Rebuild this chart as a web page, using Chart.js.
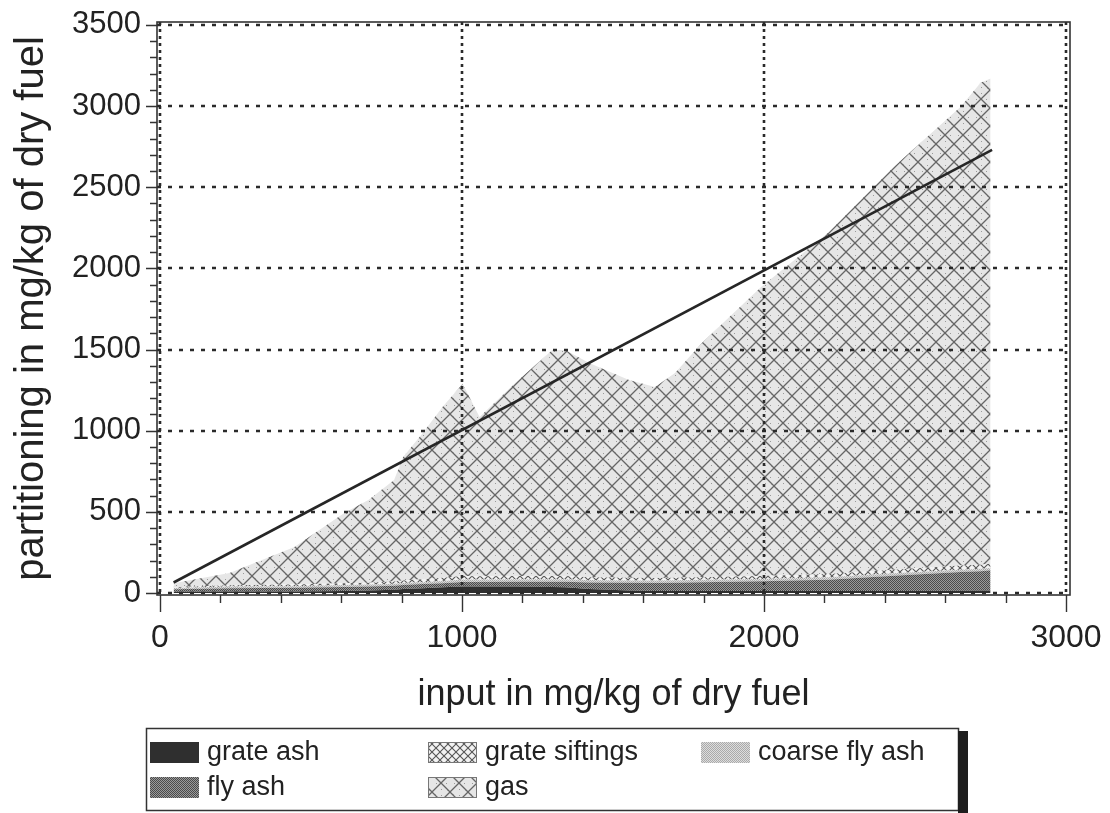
<!DOCTYPE html>
<html>
<head>
<meta charset="utf-8">
<script src="https://cdn.jsdelivr.net/npm/chart.js@4.4.0/dist/chart.umd.min.js"></script>
<style>
  html, body { margin: 0; padding: 0; background: #fff; }
  #wrap { width: 1110px; height: 813px; }
</style>
</head>
<body>
<div id="wrap"><canvas id="c" width="1110" height="813"></canvas></div>
<script>
// Input of the element in the fuel (mg/kg dry fuel), one entry per sample
const inputX = [45, 230, 445, 610, 690, 775, 805, 870, 936, 1002, 1058, 1177, 1299, 1342, 1421, 1553, 1639, 1705, 1794, 1991, 2212, 2430, 2651, 2717, 2750];

// Partitioning into the output streams (mg/kg dry fuel)
const grateAsh      = [8, 10, 10, 12, 15, 20, 25, 30, 35, 40, 40, 40, 38, 35, 25, 15, 12, 12, 12, 12, 12, 12, 14, 15, 15];
const flyAsh        = [15, 20, 22, 25, 25, 25, 25, 25, 25, 28, 28, 30, 32, 35, 40, 48, 50, 52, 55, 60, 70, 95, 115, 120, 125];
const coarseFlyAsh  = [8, 10, 10, 12, 12, 12, 12, 12, 14, 15, 15, 15, 15, 15, 15, 15, 15, 15, 15, 15, 15, 15, 15, 15, 15];
const grateSiftings = [5, 8, 10, 12, 12, 14, 15, 18, 20, 22, 20, 20, 20, 20, 18, 16, 15, 15, 15, 18, 20, 22, 25, 25, 25];
const gas           = [24, 75, 232, 432, 509, 626, 761, 901, 1053, 1185, 982, 1190, 1393, 1393, 1320, 1219, 1178, 1262, 1444, 1782, 2102, 2482, 2827, 2969, 2990];

// Output = input reference line
const balanceX = [45, 2755];
const balanceY = [65, 2730];

const seriesNames = ['grate ash', 'fly ash', 'coarse fly ash', 'grate siftings', 'gas'];
const xTicks = [0, 1000, 2000, 3000];
const yTicks = [0, 500, 1000, 1500, 2000, 2500, 3000, 3500];
const xTitle = 'input in mg/kg of dry fuel';
const yTitle = 'partitioning in mg/kg of dry fuel';

const FONT = "'Liberation Sans', Arial, Helvetica, sans-serif";
const INK = '#222';

function makePattern(size, draw) {
  const c = document.createElement('canvas');
  c.width = c.height = size;
  const g = c.getContext('2d');
  draw(g, size);
  return g.createPattern(c, 'repeat');
}

const fills = {
  'grate ash': '#2f2f2f',
  'fly ash': makePattern(2, (g) => {
    g.fillStyle = '#9a9a9a'; g.fillRect(0, 0, 2, 2);
    g.fillStyle = '#4a4a4a'; g.fillRect(0, 0, 1, 1); g.fillRect(1, 1, 1, 1);
  }),
  'coarse fly ash': makePattern(2, (g) => {
    g.fillStyle = '#dddddd'; g.fillRect(0, 0, 2, 2);
    g.fillStyle = '#aaaaaa'; g.fillRect(0, 0, 1, 1); g.fillRect(1, 1, 1, 1);
  }),
  'grate siftings': makePattern(8, (g, s) => {
    g.fillStyle = '#f2f2f2'; g.fillRect(0, 0, s, s);
    g.strokeStyle = '#555'; g.lineWidth = 1.1;
    g.beginPath(); g.moveTo(0, 0); g.lineTo(s, s); g.moveTo(s, 0); g.lineTo(0, s); g.stroke();
  }),
  'gas': makePattern(18, (g, s) => {
    g.fillStyle = '#e6e6e6'; g.fillRect(0, 0, s, s);
    g.strokeStyle = '#666'; g.lineWidth = 1.3;
    g.beginPath(); g.moveTo(0, 0); g.lineTo(s, s); g.moveTo(s, 0); g.lineTo(0, s); g.stroke();
    g.fillStyle = '#999';
    [[4, 9], [14, 9], [9, 3], [9, 15], [3, 2], [15, 16]].forEach(([px, py]) => g.fillRect(px, py, 1, 1));
  })
};

const layerValues = [grateAsh, flyAsh, coarseFlyAsh, grateSiftings, gas];

const datasets = seriesNames.map((name, i) => ({
  label: name,
  data: inputX.map((x, k) => ({ x: x, y: layerValues[i][k] })),
  stack: 'streams',
  order: 1,
  fill: i === 0 ? 'origin' : '-1',
  backgroundColor: fills[name],
  borderWidth: 0,
  borderColor: 'rgba(0,0,0,0)',
  pointRadius: 0,
  tension: 0
}));

datasets.push({
  label: 'input',
  data: balanceX.map((x, k) => ({ x: x, y: balanceY[k] })),
  stack: 'balance',
  order: 0,
  fill: false,
  borderColor: '#262626',
  borderWidth: 2.6,
  pointRadius: 0,
  tension: 0
});

// Dotted grid, frame, minor tick marks and the boxed legend
const decorations = {
  id: 'decorations',
  afterDatasetsDraw(chart) {
    const { ctx, chartArea: a, scales: { x, y } } = chart;
    ctx.save();
    ctx.strokeStyle = '#2a2a2a';
    ctx.lineWidth = 2.6;
    ctx.setLineDash([4, 7]);
    yTicks.forEach((v) => {
      const py = Math.round(y.getPixelForValue(v));
      ctx.beginPath(); ctx.moveTo(a.left, py); ctx.lineTo(a.right, py); ctx.stroke();
    });
    ctx.setLineDash([3, 4]);
    xTicks.forEach((v) => {
      const px = Math.round(x.getPixelForValue(v));
      ctx.beginPath(); ctx.moveTo(px, a.top); ctx.lineTo(px, a.bottom); ctx.stroke();
    });
    ctx.setLineDash([]);
    ctx.lineWidth = 1.6;
    ctx.strokeStyle = '#333';
    ctx.strokeRect(a.left, a.top, a.right - a.left, a.bottom - a.top);

    // minor/major ticks
    ctx.lineWidth = 1.4;
    ctx.beginPath();
    for (let v = 0; v <= 3000; v += 200) {
      const px = Math.round(x.getPixelForValue(v)) + 0.5;
      const len = v % 1000 === 0 ? 17 : 8;
      ctx.moveTo(px, a.bottom); ctx.lineTo(px, a.bottom + len);
    }
    for (let v = 0; v <= 3500; v += 100) {
      const py = Math.round(y.getPixelForValue(v)) + 0.5;
      const len = v % 500 === 0 ? 11 : 7;
      ctx.moveTo(a.left, py); ctx.lineTo(a.left - len, py);
    }
    ctx.stroke();
    ctx.restore();
  },
  afterDraw(chart) {
    const { ctx } = chart;
    ctx.save();
    const box = { left: 146, top: 728, right: 958, bottom: 810 };
    ctx.fillStyle = '#fff';
    ctx.fillRect(box.left, box.top, box.right - box.left, box.bottom - box.top);
    ctx.strokeStyle = '#333';
    ctx.lineWidth = 1.5;
    ctx.strokeRect(box.left + 0.5, box.top + 0.5, box.right - box.left, box.bottom - box.top);
    ctx.fillStyle = '#1e1e1e';
    ctx.fillRect(box.right, box.top + 3, 10, box.bottom - box.top);

    const cols = [150, 428, 701];
    const rows = [752, 787];
    const slots = [[0, 0], [0, 1], [2, 0], [1, 0], [1, 1]];
    ctx.font = '27px ' + FONT;
    ctx.textBaseline = 'middle';
    ctx.textAlign = 'left';
    seriesNames.forEach((name, i) => {
      const [c, r] = slots[i];
      const sx = cols[c], sy = rows[r] - 10;
      ctx.fillStyle = fills[name];
      ctx.fillRect(sx, sy, 49, 21);
      if (name === 'grate siftings' || name === 'gas') {
        ctx.strokeStyle = '#777'; ctx.lineWidth = 1;
        ctx.strokeRect(sx + 0.5, sy + 0.5, 48, 20);
      }
      ctx.fillStyle = INK;
      ctx.fillText(name, sx + 57, rows[r] + 1);
    });
    ctx.restore();
  }
};

new Chart(document.getElementById('c'), {
  type: 'line',
  data: { datasets: datasets },
  plugins: [decorations],
  options: {
    responsive: false,
    animation: false,
    devicePixelRatio: 1,
    layout: { padding: { left: 0, right: 40, top: 22, bottom: 88 } },
    plugins: { legend: { display: false }, tooltip: { enabled: false } },
    scales: {
      x: {
        type: 'linear',
        min: -10,
        max: 3013,
        afterBuildTicks: (s) => { s.ticks = xTicks.map((v) => ({ value: v })); },
        afterFit: (s) => { s.height = 130; s.paddingLeft = 0; s.paddingRight = 0; },
        grid: { display: false, drawTicks: false },
        border: { display: false },
        ticks: { color: INK, padding: 24, maxRotation: 0, callback: (v) => String(v), font: { family: FONT, size: 32 } },
        title: { display: true, text: xTitle, color: INK, padding: { top: 0, bottom: 8 }, font: { family: FONT, size: 36 } }
      },
      y: {
        type: 'linear',
        stacked: true,
        min: -12,
        max: 3518,
        afterBuildTicks: (s) => { s.ticks = yTicks.map((v) => ({ value: v })); },
        afterFit: (s) => { s.width = 157; s.paddingTop = 0; s.paddingBottom = 0; },
        grid: { display: false, drawTicks: false },
        border: { display: false },
        ticks: { color: INK, padding: 16, callback: (v) => String(v), font: { family: FONT, size: 31 } },
        title: { display: true, text: yTitle, color: INK, padding: { top: 8, bottom: 0 }, font: { family: FONT, size: 40 } }
      }
    }
  }
});
</script>
</body>
</html>
